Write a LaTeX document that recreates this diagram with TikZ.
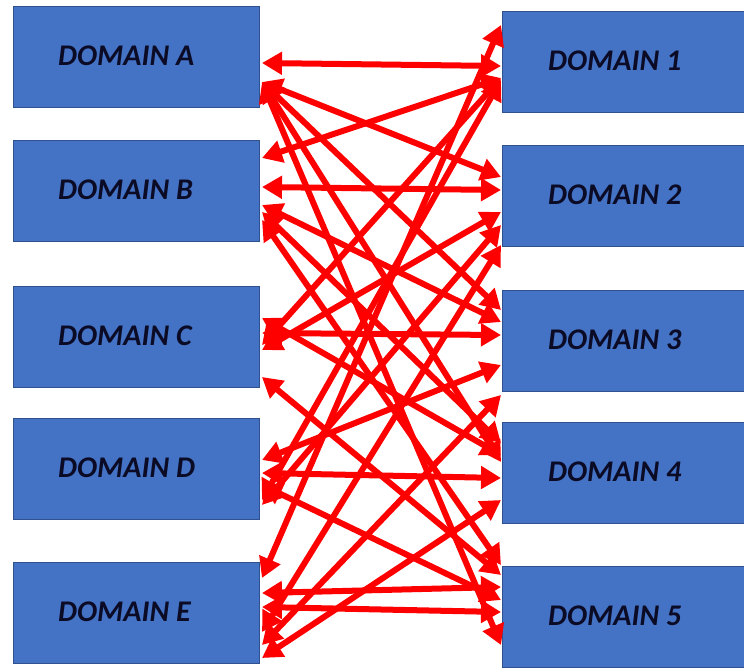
\documentclass[tikz,border=0pt]{standalone}
\usepackage{fontspec}
\setmainfont{Carlito}
\usetikzlibrary{arrows.meta,calc}
\definecolor{boxblue}{HTML}{4472C4}
\definecolor{boxedge}{HTML}{2F528F}
\definecolor{txt}{HTML}{0B0B26}
\begin{document}
\begin{tikzpicture}[x=1pt,y=-1pt,
  box/.style={draw=boxedge,line width=1pt,fill=boxblue,minimum width=246pt,minimum height=101pt,anchor=north west,inner sep=0pt},
  lbl/.style={anchor=west,text=txt,font=\fontsize{30}{36}\selectfont\bfseries\itshape,inner sep=0pt},
  conn/.style={draw=red,line width=6pt,arrows={Triangle[length=20pt,width=22pt]-Triangle[length=20pt,width=22pt]}}]
\useasboundingbox (0,0) rectangle (744,667);
% left boxes
\node[box] (A) at (13,6) {};
\node[box] (B) at (13,140) {};
\node[box] (C) at (13,286) {};
\node[box] (D) at (13,418) {};
\node[box] (E) at (13,562) {};
% right boxes
\node[box,minimum width=246pt] (R1) at (502,11) {};
\node[box,minimum width=246pt] (R2) at (502,145) {};
\node[box,minimum width=246pt] (R3) at (502,290) {};
\node[box,minimum width=246pt] (R4) at (502,422) {};
\node[box,minimum width=246pt] (R5) at (502,566) {};
% labels
\node[lbl] (tA) at ($(A.west)+(45,-1)$) {DOMAIN A};
\node[lbl] (tB) at ($(B.west)+(45,-1)$) {DOMAIN B};
\node[lbl] (tC) at ($(C.west)+(45,-1)$) {DOMAIN C};
\node[lbl] (tD) at ($(D.west)+(45,-1)$) {DOMAIN D};
\node[lbl] (tE) at ($(E.west)+(45,-1)$) {DOMAIN E};
\node[lbl] (t1) at ($(R1.west)+(46,-1)$) {DOMAIN 1};
\node[lbl] (t2) at ($(R2.west)+(46,-1)$) {DOMAIN 2};
\node[lbl] (t3) at ($(R3.west)+(46,-1)$) {DOMAIN 3};
\node[lbl] (t4) at ($(R4.west)+(46,-1)$) {DOMAIN 4};
\node[lbl] (t5) at ($(R5.west)+(46,-1)$) {DOMAIN 5};
% connectors: \lnk{left}{y}{right}{y}
\newcommand\lnk[4]{\draw[conn] ($(#1.east |- 0,#2)+(2,0)$) -- ($(#3.west |- 0,#4)+(-1,0)$);}
\lnk{A}{63}{R1}{66}
\lnk{A}{82}{R2}{177}
\lnk{A}{82}{R3}{310}
\lnk{A}{82}{R4}{462}
\lnk{A}{82}{R5}{645}
\lnk{B}{158}{R1}{78}
\lnk{B}{187}{R2}{190}
\lnk{B}{205}{R3}{322}
\lnk{B}{212}{R4}{443}
\lnk{B}{220}{R5}{565}
\lnk{C}{345}{R1}{78}
\lnk{C}{350}{R2}{212}
\lnk{C}{333}{R3}{335}
\lnk{C}{318}{R4}{455}
\lnk{C}{377}{R5}{575}
\lnk{D}{500}{R1}{80}
\lnk{D}{505}{R2}{225}
\lnk{D}{460}{R3}{365}
\lnk{D}{473}{R4}{478}
\lnk{D}{485}{R5}{600}
\lnk{E}{578}{R1}{25}
\lnk{E}{632}{R2}{245}
\lnk{E}{645}{R3}{395}
\lnk{E}{658}{R4}{500}
\lnk{E}{593}{R5}{587}
\lnk{E}{607}{R5}{612}
\end{tikzpicture}
\end{document}
